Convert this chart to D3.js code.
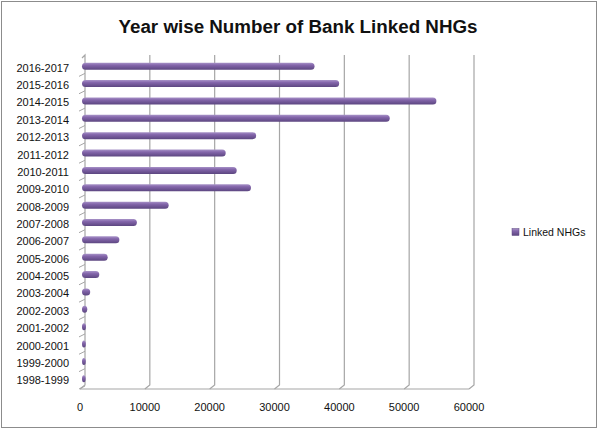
<!DOCTYPE html>
<html><head><meta charset="utf-8">
<script src="https://cdn.jsdelivr.net/npm/d3@7"></script>
<style>body{margin:0;background:#fff}svg{display:block}</style>
</head><body>
<script>
const categories = ["1998-1999","1999-2000","2000-2001","2001-2002","2002-2003","2003-2004","2004-2005","2005-2006","2006-2007","2007-2008","2008-2009","2009-2010","2010-2011","2011-2012","2012-2013","2013-2014","2014-2015","2015-2016","2016-2017"];
const linkedNHGs = [100,120,130,150,350,800,2200,3500,5300,8000,12900,25600,23400,21700,26400,47000,54200,39200,35400];
const xTicks = [0,10000,20000,30000,40000,50000,60000];
const seriesName = "Linked NHGs";
const title = "Year wise Number of Bank Linked NHGs";

const W=600,H=431;
const svg=d3.select("body").append("svg").attr("width",W).attr("height",H);
const defs=svg.append("defs");
const grad=defs.append("linearGradient").attr("id","bar").attr("x1",0).attr("y1",0).attr("x2",0).attr("y2",1);
grad.append("stop").attr("offset","0%").attr("stop-color","#a893c8");
grad.append("stop").attr("offset","35%").attr("stop-color","#8466ab");
grad.append("stop").attr("offset","100%").attr("stop-color","#5c4680");

svg.append("rect").attr("x",1.5).attr("y",1.5).attr("width",595).attr("height",426).attr("fill","#fff").attr("stroke","#8c8c8c");

svg.append("text").attr("x",298).attr("y",33).attr("text-anchor","middle")
  .attr("font-family","Liberation Sans, Arial, sans-serif").attr("font-weight","bold").attr("font-size",18.8)
  .attr("fill","#111").text(title);

const x=d3.scaleLinear().domain([0,60000]).range([85,474]);
const y=d3.scaleBand().domain(categories.slice().reverse()).range([56,386]);
const dx=-5, dy=4;
const yTop=55, yBot=385;

xTicks.forEach(t=>{
  const X=x(t);
  if(t===0) return;
  svg.append("path").attr("d",`M${X},${yTop}V${yBot}L${X+dx},${yBot+dy}`).attr("fill","none").attr("stroke","#a6a6a6").attr("stroke-width",1.2);
});
svg.append("path").attr("d",`M${x(0)-3},${yTop+3}L${x(0)},${yTop}V${yBot}L${x(0)+dx},${yBot+dy}`).attr("fill","none").attr("stroke","#a6a6a6").attr("stroke-width",1.2);
svg.append("path").attr("d",`M${x(0)+dx},${yBot+dy}H${x(60000)+dx}`).attr("stroke","#a6a6a6").attr("stroke-width",1.2);
y.domain().forEach(c=>{
  const Y=y(c)+y.bandwidth();
  svg.append("line").attr("x1",x(0)-6).attr("y1",Y+3).attr("x2",x(0)).attr("y2",Y).attr("stroke","#a6a6a6");
});

svg.append("g").selectAll("text").data(xTicks).join("text")
  .attr("x",d=>x(d)+dx).attr("y",411).attr("text-anchor","middle")
  .attr("font-family","Liberation Sans, Arial, sans-serif").attr("font-size",11).attr("fill","#111")
  .text(d=>d);

svg.append("g").selectAll("text").data(categories).join("text")
  .attr("x",69).attr("y",d=>y(d)+y.bandwidth()/2+7).attr("text-anchor","end")
  .attr("font-family","Liberation Sans, Arial, sans-serif").attr("font-size",11).attr("fill","#111")
  .text(d=>d);

const bh=7;
svg.append("g").selectAll("rect").data(categories).join("rect")
  .attr("x",x(0)-3)
  .attr("y",(d)=>y(d)+y.bandwidth()/2-bh/2+1.5)
  .attr("width",(d,i)=>Math.max(3,x(linkedNHGs[i])-x(0)+3))
  .attr("height",bh).attr("rx",3.5).attr("ry",3.5)
  .attr("fill","url(#bar)");

svg.append("rect").attr("x",512).attr("y",228.5).attr("width",7).attr("height",7).attr("fill","url(#bar)").attr("stroke","#5c4680").attr("stroke-width",0.5);
svg.append("text").attr("x",523).attr("y",236).attr("font-family","Liberation Sans, Arial, sans-serif").attr("font-size",10.5).attr("fill","#111").text(seriesName);
</script>
</body></html>
